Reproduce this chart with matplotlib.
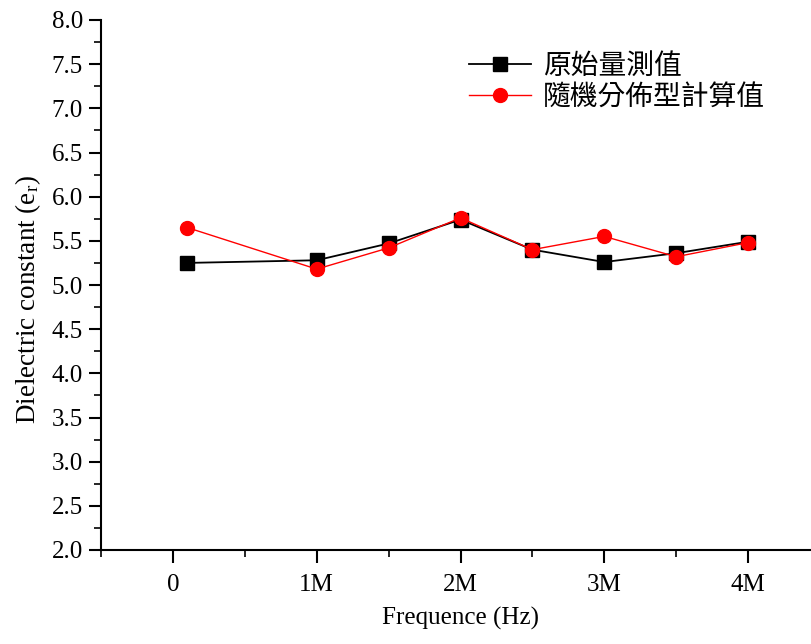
import numpy as np
import matplotlib.pyplot as plt
from matplotlib.ticker import MultipleLocator, FixedLocator, FixedFormatter

# frequency points (Hz) and measured / simulated dielectric constant
freq = [0.1e6, 1.0e6, 1.5e6, 2.0e6, 2.5e6, 3.0e6, 3.5e6, 4.0e6]
measured = [5.25, 5.28, 5.47, 5.74, 5.40, 5.26, 5.36, 5.49]
random_model = [5.65, 5.18, 5.42, 5.76, 5.40, 5.55, 5.32, 5.48]

series_names = ["原始量測值", "隨機分佈型計算值"]
xtick_values = [0, 1e6, 2e6, 3e6, 4e6]
xtick_labels = ["0", "1M", "2M", "3M", "4M"]

plt.rcParams['font.family'] = ['Liberation Serif', 'Noto Sans CJK TC']
plt.rcParams['mathtext.fontset'] = 'custom'
plt.rcParams['mathtext.rm'] = 'Liberation Serif'
plt.rcParams['mathtext.it'] = 'Liberation Serif'

W, H = 811, 644
fig = plt.figure(figsize=(W / 100, H / 100), dpi=100)
ax = fig.add_axes([101 / W, (H - 550) / H, 719 / W, 530 / H])

ax.plot(freq, measured, color='black', lw=1.3, marker='s', ms=9.5,
        label=series_names[0])
ax.plot(freq, random_model, color='red', lw=1.0, marker='o', ms=10,
        label=series_names[1])

ax.set_xlim(-0.5e6, 4.5e6)
ax.set_ylim(2.0, 8.0)

ax.xaxis.set_major_locator(FixedLocator(xtick_values))
ax.xaxis.set_major_formatter(FixedFormatter(xtick_labels))
ax.xaxis.set_minor_locator(MultipleLocator(0.5e6))
ax.yaxis.set_major_locator(MultipleLocator(0.5))
ax.yaxis.set_minor_locator(MultipleLocator(0.25))
ax.yaxis.set_major_formatter(plt.FuncFormatter(lambda v, p: f"{v:.1f}"))

for s in ['top', 'right']:
    ax.spines[s].set_visible(False)
for s in ['left', 'bottom']:
    ax.spines[s].set_linewidth(1.5)

ax.tick_params(axis='both', which='major', direction='out', length=9,
               width=1.5, labelsize=18, pad=4)
ax.tick_params(axis='both', which='minor', direction='out', length=5,
               width=1.2)
ax.tick_params(axis='x', which='major', pad=8)

ax.set_xlabel("Frequence (Hz)", fontsize=18, labelpad=8)
ax.set_ylabel(r"Dielectric constant (e$_{\mathregular{r}}$)", fontsize=19.5)
ax.yaxis.set_label_coords(-0.08, 0.472)

leg = ax.legend(loc='upper left', bbox_to_anchor=(0.497, 0.963), frameon=False,
                fontsize=20, handlelength=2.2, handletextpad=0.45,
                labelspacing=0.05, borderaxespad=0)
for t in leg.get_texts():
    t.set_fontfamily(['Noto Sans CJK TC'])

fig.savefig("out.png", dpi=100)
